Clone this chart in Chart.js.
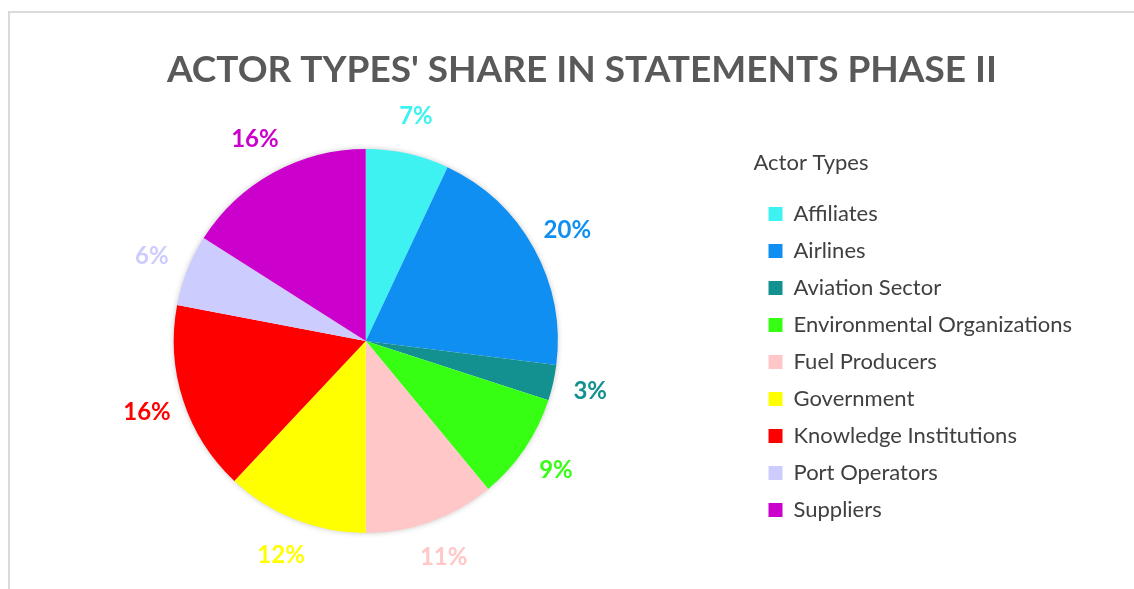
<!DOCTYPE html>
<html>
<head>
<meta charset="utf-8">
<script src="https://cdn.jsdelivr.net/npm/chart.js@4.4.1/dist/chart.umd.min.js"></script>
<style>
  html, body { margin: 0; padding: 0; background: #fff; overflow: hidden; }
  .frame {
    position: absolute; left: 8px; top: 11px; width: 1140px; height: 600px;
    border-top: 2px solid #d9d9d9; border-left: 2px solid #d9d9d9;
  }
  .wrap { position: absolute; left: -22px; top: 0; width: 1156px; height: 589px; }
</style>
</head>
<body>
<div class="frame"></div>
<div class="wrap"><canvas id="actorChart"></canvas></div>
<script>
// Actor types and their share (%) of statements in phase II
const actorTypes = ['Affiliates', 'Airlines', 'Aviation Sector', 'Environmental Organizations',
  'Fuel Producers', 'Government', 'Knowledge Institutions', 'Port Operators', 'Suppliers'];
const sharePercent = [7, 20, 3, 9, 11, 12, 16, 6, 16];
const sliceColors = ['#3ef2f2', '#0f8ff2', '#139090', '#36ff14', '#ffc7c7',
  '#ffff00', '#ff0000', '#ccccff', '#cc00cc'];

// centre the title over pie + legend rather than over the padded box
const titleShift = {
  id: 'titleShift',
  afterLayout(chart) {
    const t = chart.titleBlock;
    if (!t) return;
    t.left += 52;
    t.right += 52;
  }
};

// soft shadow under the whole pie
const pieShadow = {
  id: 'pieShadow',
  beforeDatasetsDraw(chart) {
    const arc = chart.getDatasetMeta(0).data[0];
    if (!arc) return;
    const ctx = chart.ctx;
    ctx.save();
    ctx.shadowColor = 'rgba(0,0,0,0.3)';
    ctx.shadowBlur = 6;
    ctx.fillStyle = '#ffffff';
    ctx.beginPath();
    ctx.arc(arc.x, arc.y, arc.outerRadius - 1, 0, Math.PI * 2);
    ctx.fill();
    ctx.restore();
  }
};

// percentage labels just outside each slice, in the slice colour
const outsideLabels = {
  id: 'outsideLabels',
  afterDatasetsDraw(chart) {
    const ctx = chart.ctx;
    const meta = chart.getDatasetMeta(0);
    ctx.save();
    ctx.font = 'bold 24px Lato';
    ctx.textAlign = 'center';
    ctx.textBaseline = 'middle';
    meta.data.forEach((arc, i) => {
      const mid = (arc.startAngle + arc.endAngle) / 2;
      const r = arc.outerRadius + 38;
      ctx.fillStyle = sliceColors[i];
      ctx.fillText(sharePercent[i] + '%', arc.x + Math.cos(mid) * r, arc.y + Math.sin(mid) * r);
    });
    ctx.restore();
  }
};

const ctx = document.getElementById('actorChart').getContext('2d');
new Chart(ctx, {
  type: 'pie',
  data: {
    labels: actorTypes,
    datasets: [{
      data: sharePercent,
      backgroundColor: sliceColors,
      borderWidth: 0
    }]
  },
  options: {
    responsive: true,
    maintainAspectRatio: false,
    animation: false,
    radius: 192,
    layout: {
      padding: { left: 0, right: 52, top: 0, bottom: 0 }
    },
    plugins: {
      tooltip: { enabled: false },
      title: {
        display: true,
        text: "ACTOR TYPES' SHARE IN STATEMENTS PHASE II",
        color: '#595959',
        font: { family: 'Lato', size: 37, weight: 'bold', lineHeight: 1.2 },
        padding: { top: 48, bottom: 0.6 }
      },
      legend: {
        position: 'right',
        align: 'start',
        fullSize: false,
        title: {
          display: true,
          text: 'Actor Types',
          position: 'start',
          color: '#404040',
          font: { family: 'Lato', size: 22 },
          padding: { top: 59, bottom: 9.6 }
        },
        labels: {
          color: '#404040',
          font: { family: 'Lato', size: 22 },
          boxWidth: 14,
          boxHeight: 14,
          padding: 15
        }
      }
    }
  },
  plugins: [titleShift, pieShadow, outsideLabels]
});
</script>
</body>
</html>
